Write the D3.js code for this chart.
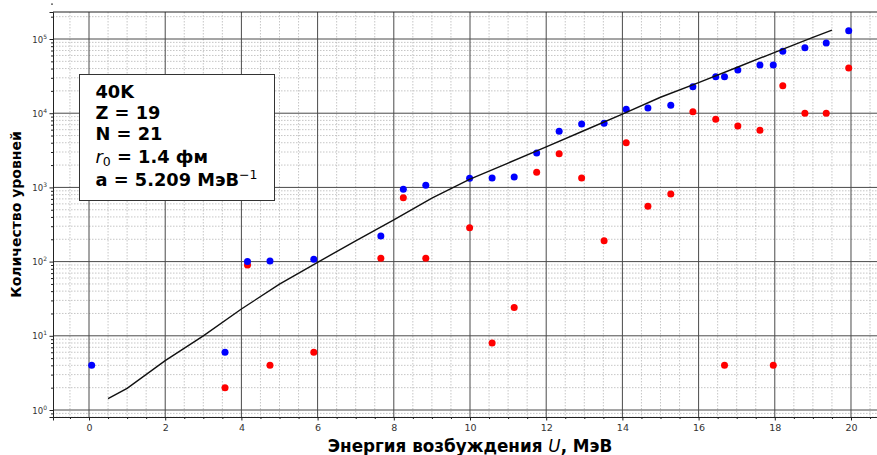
<!DOCTYPE html>
<html>
<head>
<meta charset="utf-8">
<script src="https://cdn.jsdelivr.net/npm/d3@7"></script>
<style>
  html, body { margin: 0; padding: 0; background: #fff; }
  svg { display: block; font-family: "DejaVu Sans", sans-serif; }
</style>
</head>
<body>
<svg id="chart" width="877" height="455"></svg>
<script>
// Excitation energies of the levels, MeV
const energies = [0.07, 3.57, 4.16, 4.75, 5.90, 7.66, 8.25, 8.84, 9.99, 10.58, 11.16, 11.75, 12.34, 12.93,
  13.52, 14.10, 14.67, 15.27, 15.85, 16.45, 16.68, 17.03, 17.61, 17.96, 18.21, 18.79, 19.35, 19.94];
// Cumulative number of levels (blue)
const cumulativeCounts = [4, 6, 100, 102, 108, 221, 942, 1067, 1327, 1340, 1380, 2910, 5700, 7150,
  7310, 11270, 11750, 12770, 22760, 31000, 31000, 38200, 44700, 44700, 68200, 76300, 88300, 129000];
// Number of levels per step (red); none at the ground state
const stepCounts = [null, 2, 90, 4, 6, 111, 726, 111, 286, 8, 24, 1597, 2845, 1340,
  191, 4000, 556, 815, 10470, 8280, 4, 6720, 5890, 4, 23500, 10000, 10000, 40700];
// Fermi-gas estimate of the cumulative level count
const modelEnergies = [0.5, 1, 2, 3, 4, 5, 6, 7, 8, 9, 10, 11, 12, 13, 14, 15, 16, 17, 18, 19, 19.5];
const modelCounts = [1.42, 1.96, 4.62, 10.0, 23.0, 49.6, 97.9, 190, 364, 715, 1297, 2130, 3515, 5845,
  9720, 16400, 25800, 41300, 66200, 105400, 132000];
// Axis ticks
const xTicks = [0, 2, 4, 6, 8, 10, 12, 14, 16, 18, 20];
const yExponents = [0, 1, 2, 3, 4, 5];

const svg = d3.select("#chart");
const pLeft = 53, pTop = 12, pRight = 887, pBottom = 417;

const x = d3.scaleLinear().domain([-0.945, 20.945]).range([pLeft, pRight]);
const y = d3.scaleLog().domain([Math.pow(10, -0.0943), Math.pow(10, 5.364)]).range([pBottom, pTop]);

svg.append("defs").append("clipPath").attr("id", "plot")
  .append("rect").attr("x", pLeft).attr("y", pTop).attr("width", pRight - pLeft).attr("height", pBottom - pTop);

const grid = svg.append("g").attr("clip-path", "url(#plot)");

// minor grid
const xMinor = d3.range(-0.5, 21, 0.5).filter(v => !xTicks.includes(v));
grid.selectAll(".xminor").data(xMinor).join("line")
  .attr("x1", d => x(d)).attr("x2", d => x(d)).attr("y1", pTop).attr("y2", pBottom)
  .attr("stroke", "#b8b8b8").attr("stroke-width", 0.8).attr("stroke-dasharray", "1.5,1.5");
const yMinor = [];
for (let e = -1; e <= 5; e++) for (let m = 2; m <= 9; m++) yMinor.push(m * Math.pow(10, e));
grid.selectAll(".yminor").data(yMinor).join("line")
  .attr("x1", pLeft).attr("x2", pRight).attr("y1", d => y(d)).attr("y2", d => y(d))
  .attr("stroke", "#b8b8b8").attr("stroke-width", 0.8).attr("stroke-dasharray", "1.5,1.5");

// major grid
grid.selectAll(".xmajor").data(xTicks).join("line")
  .attr("x1", d => x(d)).attr("x2", d => x(d)).attr("y1", pTop).attr("y2", pBottom)
  .attr("stroke", "#4a4a4a").attr("stroke-width", 1);
grid.selectAll(".ymajor").data(yExponents).join("line")
  .attr("x1", pLeft).attr("x2", pRight).attr("y1", d => y(Math.pow(10, d))).attr("y2", d => y(Math.pow(10, d)))
  .attr("stroke", "#4a4a4a").attr("stroke-width", 1);

// axes
const xAxis = d3.axisBottom(x).tickValues(xTicks).tickSize(3.5).tickPadding(3.5).tickFormat(d3.format("d"));
const gx = svg.append("g").attr("transform", `translate(0,${pBottom})`).call(xAxis);
gx.select(".domain").attr("stroke", "#222");
gx.selectAll(".tick line").attr("stroke", "#222");
gx.selectAll("text").attr("font-size", 9.5).attr("fill", "#333").attr("font-family", "DejaVu Sans");
const xMinorAxis = d3.axisBottom(x).tickValues(xMinor).tickSize(2).tickFormat("");
const gxm = svg.append("g").attr("transform", `translate(0,${pBottom})`).call(xMinorAxis);
gxm.select(".domain").remove();
gxm.selectAll(".tick line").attr("stroke", "#222");

const yAxis = d3.axisLeft(y).tickValues(yExponents.map(e => Math.pow(10, e))).tickSize(3.5).tickFormat("");
const gy = svg.append("g").attr("transform", `translate(${pLeft},0)`).call(yAxis);
gy.select(".domain").attr("stroke", "#222");
gy.selectAll(".tick line").attr("stroke", "#222");
const yMinorAxis = d3.axisLeft(y).tickValues(yMinor.filter(v => v > y.domain()[0])).tickSize(2).tickFormat("");
const gym = svg.append("g").attr("transform", `translate(${pLeft},0)`).call(yMinorAxis);
gym.select(".domain").remove();
gym.selectAll(".tick line").attr("stroke", "#222");

// power-of-ten labels
const yl = svg.append("g").attr("fill", "#333").attr("font-size", 8.5);
yExponents.forEach(e => {
  const t = yl.append("text").attr("x", pLeft - 6).attr("y", y(Math.pow(10, e)) + 3.5).attr("text-anchor", "end");
  t.append("tspan").text("10");
  t.append("tspan").attr("dy", -4).attr("font-size", 6).text(e);
});

// top spine
svg.append("line").attr("x1", pLeft).attr("x2", pRight).attr("y1", pTop).attr("y2", pTop).attr("stroke", "#222");

// data
const plot = svg.append("g").attr("clip-path", "url(#plot)");
const redPts = energies.map((u, i) => [u, stepCounts[i]]).filter(d => d[1] !== null);
const bluePts = energies.map((u, i) => [u, cumulativeCounts[i]]);
plot.selectAll(".red").data(redPts).join("circle")
  .attr("cx", d => x(d[0])).attr("cy", d => y(d[1])).attr("r", 3.5).attr("fill", "#ff0000");
plot.selectAll(".blue").data(bluePts).join("circle")
  .attr("cx", d => x(d[0])).attr("cy", d => y(d[1])).attr("r", 3.5).attr("fill", "#0000ff");
const line = d3.line().x(d => x(d[0])).y(d => y(d[1]));
plot.append("path").datum(modelEnergies.map((u, i) => [u, modelCounts[i]]))
  .attr("d", line).attr("fill", "none").attr("stroke", "#111").attr("stroke-width", 1.4);

// axis titles
const xt = svg.append("text").attr("x", x(10)).attr("y", 452).attr("text-anchor", "middle")
  .attr("font-size", 16.8).attr("font-weight", "bold").attr("fill", "#000");
xt.append("tspan").text("Энергия возбуждения ");
xt.append("tspan").attr("font-style", "italic").attr("font-weight", "normal").text("U");
xt.append("tspan").text(", МэВ");

svg.append("text").attr("transform", `translate(21,${(pTop + pBottom) / 2}) rotate(-90)`)
  .attr("text-anchor", "middle").attr("font-size", 14).attr("font-weight", "bold").text("Количество уровней");

// info box
const box = svg.append("g");
box.append("rect").attr("x", 79.5).attr("y", 74.5).attr("width", 195).attr("height", 126)
  .attr("fill", "#fff").attr("stroke", "#333").attr("stroke-width", 1);
const info = box.append("g").attr("font-size", 17.8).attr("font-weight", "bold").attr("fill", "#000");
info.append("text").attr("x", 95.5).attr("y", 97.7).text("40K");
info.append("text").attr("x", 95.5).attr("y", 119).text("Z = 19");
info.append("text").attr("x", 95.5).attr("y", 139.5).text("N = 21");
const r0 = info.append("text").attr("x", 95.5).attr("y", 162.5);
r0.append("tspan").attr("font-style", "italic").attr("font-weight", "normal").text("r");
r0.append("tspan").attr("font-size", 12.5).attr("font-weight", "normal").attr("dy", 3).text("0");
r0.append("tspan").attr("dy", -3).text(" = 1.4 фм");
const aa = info.append("text").attr("x", 95.5).attr("y", 186);
aa.append("tspan").text("a = 5.209 МэВ");
aa.append("tspan").attr("font-size", 12.5).attr("font-weight", "normal").attr("dy", -7.5).text("−1");
</script>
</body>
</html>
